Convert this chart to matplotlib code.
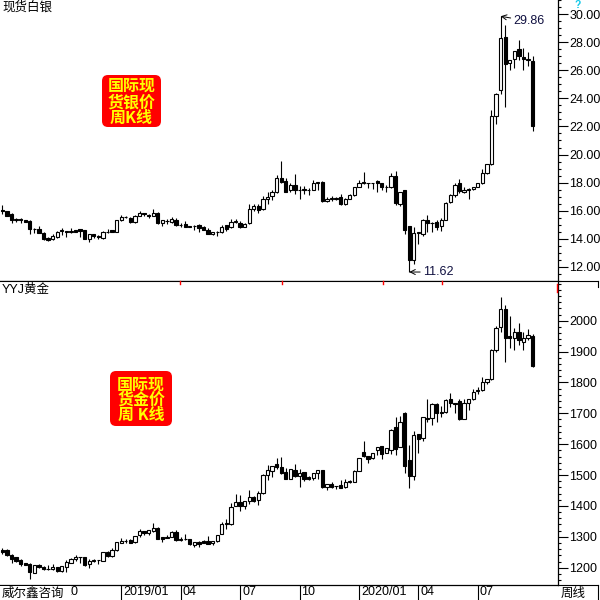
import matplotlib
matplotlib.use('Agg')
import matplotlib.pyplot as plt
import matplotlib.transforms as mtransforms
from matplotlib.patches import Rectangle, FancyBboxPatch
from matplotlib.lines import Line2D
from matplotlib.ticker import MultipleLocator, FixedLocator, FormatStrFormatter

# weekly candles, week of 2018-07-02 .. week of 2020-09-21
silver_open = [16.05, 15.95, 15.75, 15.35, 15.4, 15.32, 15.25, 14.7, 14.72, 14.4,
               14.05, 13.95, 14.15, 14.55, 14.55, 14.5, 14.6, 14.7, 14.6, 14.0,
               14.3, 14.2, 14.05, 14.5, 14.6, 14.5, 15.3, 15.55, 15.5, 15.2,
               15.65, 15.8, 15.7, 15.65, 15.85, 15.1, 15.25, 15.2, 15.35, 15.0,
               15.05, 14.88, 14.9, 14.95, 14.85, 14.6, 14.3, 14.5, 14.45, 14.95,
               14.8, 15.2, 15.15, 14.85, 15.15, 16.1, 16.3, 16.1, 16.85, 17.05,
               17.3, 18.3, 18.1, 17.5, 17.85, 17.45, 17.45, 17.5, 17.5, 17.95,
               18.05, 16.7, 16.85, 16.9, 16.95, 16.45, 16.85, 17.1, 17.7, 18.05,
               18.0, 17.95, 18.1, 17.95, 17.65, 17.65, 18.5, 16.5, 17.45, 14.9,
               12.5, 14.4, 14.3, 15.35, 15.1, 15.2, 14.9, 15.35, 16.6, 17.1,
               17.95, 17.3, 17.45, 17.55, 17.7, 17.95, 18.65, 19.3, 22.75, 24.6,
               28.35, 26.5, 26.8, 27.55, 26.95, 26.75, 26.65]
silver_high = [16.4, 16.0, 15.8, 15.5, 15.45, 15.35, 15.3, 14.75, 14.9, 14.45,
               14.1, 14.3, 14.55, 14.75, 14.55, 14.75, 14.65, 14.7, 14.65, 14.35,
               14.35, 14.25, 14.55, 14.7, 14.6, 15.35, 15.7, 15.65, 15.55, 15.7,
               16.0, 15.85, 15.75, 16.1, 15.9, 15.35, 15.4, 15.55, 15.45, 15.15,
               15.25, 14.9, 14.95, 15.05, 14.9, 14.75, 14.5, 14.55, 15.0, 15.0,
               15.4, 15.4, 15.25, 15.1, 16.45, 16.5, 16.45, 17.05, 17.35, 17.45,
               18.55, 19.55, 18.35, 18.0, 18.6, 17.75, 17.75, 17.6, 18.2, 18.05,
               18.1, 16.95, 17.05, 17.0, 17.2, 16.9, 17.15, 17.7, 18.15, 18.75,
               18.0, 18.0, 18.2, 18.0, 17.8, 18.65, 18.85, 17.35, 17.5, 14.9,
               14.85, 14.45, 15.4, 15.68, 15.2, 15.3, 15.45, 16.6, 17.2, 18.0,
               18.25, 17.7, 17.6, 17.7, 18.0, 18.95, 19.35, 23.2, 24.4, 29.86,
               29.25, 26.75, 27.4, 28.2, 27.6, 27.3, 27.0]
silver_low = [15.75, 15.6, 15.1, 15.2, 15.1, 15.2, 14.3, 14.4, 14.4, 13.9,
              13.85, 13.9, 14.05, 14.25, 14.15, 14.4, 14.45, 14.15, 13.95, 13.75,
              14.05, 14.0, 14.0, 14.4, 14.45, 14.45, 15.25, 15.45, 15.15, 15.1,
              15.6, 15.6, 15.45, 15.6, 15.05, 14.9, 15.05, 15.15, 14.9, 14.85,
              14.85, 14.8, 14.6, 14.5, 14.6, 14.3, 14.25, 14.2, 14.4, 14.55,
              14.75, 15.1, 14.75, 14.8, 15.05, 16.0, 15.85, 16.05, 16.45, 16.75,
              17.25, 17.95, 17.3, 17.35, 17.2, 16.85, 17.2, 17.1, 17.5, 17.5,
              16.6, 16.6, 16.65, 16.75, 16.4, 16.4, 16.8, 17.05, 17.7, 17.9,
              17.6, 17.55, 17.3, 17.45, 17.35, 17.6, 16.4, 16.3, 14.35, 11.62,
              12.2, 13.6, 14.2, 14.5, 14.5, 14.6, 14.55, 15.3, 16.55, 17.0,
              17.25, 17.25, 16.8, 17.5, 17.65, 17.9, 18.6, 19.25, 22.2, 24.3,
              23.4, 26.0, 26.15, 26.75, 26.0, 26.3, 21.65]
silver_close = [15.95, 15.65, 15.35, 15.4, 15.3, 15.22, 14.7, 14.72, 14.42, 14.0,
                13.9, 14.2, 14.5, 14.6, 14.5, 14.58, 14.5, 14.55, 14.0, 14.3,
                14.2, 14.1, 14.5, 14.5, 14.5, 15.3, 15.55, 15.55, 15.2, 15.65,
                15.82, 15.75, 15.65, 15.85, 15.1, 15.3, 15.25, 15.4, 15.0, 15.0,
                14.85, 14.85, 14.92, 14.75, 14.65, 14.3, 14.45, 14.5, 14.85, 14.7,
                15.2, 15.25, 14.85, 15.05, 16.1, 16.3, 16.05, 16.85, 17.0, 17.3,
                18.3, 18.05, 17.35, 17.85, 17.45, 17.5, 17.55, 17.5, 17.95, 18.05,
                16.65, 16.85, 16.9, 16.8, 16.45, 16.85, 17.1, 17.65, 17.95, 17.95,
                17.95, 18.0, 17.95, 17.65, 17.7, 18.5, 16.55, 17.3, 14.6, 12.5,
                14.4, 14.45, 15.35, 15.1, 15.1, 14.85, 15.35, 16.55, 17.1, 17.8,
                17.4, 17.5, 17.55, 17.68, 17.95, 18.65, 19.3, 22.75, 24.3, 28.3,
                26.45, 26.75, 27.4, 27.0, 26.8, 26.8, 22.0]

gold_open = [1257, 1257, 1241, 1233, 1225, 1214, 1212, 1184, 1209, 1201,
             1196, 1195, 1201, 1190, 1203, 1216, 1227, 1233, 1234, 1211,
             1223, 1224, 1223, 1250, 1239, 1257, 1281, 1285, 1289, 1282,
             1305, 1319, 1313, 1320, 1330, 1298, 1296, 1300, 1315, 1291,
             1293, 1292, 1275, 1284, 1286, 1285, 1279, 1286, 1309, 1342,
             1343, 1401, 1413, 1399, 1417, 1428, 1418, 1441, 1500, 1513,
             1537, 1525, 1509, 1488, 1516, 1498, 1509, 1495, 1492, 1506,
             1516, 1460, 1470, 1463, 1468, 1460, 1477, 1479, 1514, 1575,
             1563, 1555, 1581, 1594, 1571, 1581, 1655, 1592, 1700, 1549,
             1498, 1632, 1619, 1686, 1684, 1729, 1701, 1703, 1745, 1735,
             1740, 1683, 1733, 1748, 1773, 1775, 1800, 1811, 1904, 1980,
             2038, 1950, 1943, 1964, 1932, 1943, 1950]
gold_high = [1263, 1262, 1244, 1236, 1228, 1216, 1214, 1210, 1211, 1205,
             1209, 1211, 1201, 1207, 1225, 1232, 1241, 1234, 1236, 1227,
             1228, 1226, 1252, 1253, 1263, 1283, 1295, 1292, 1292, 1304,
             1326, 1319, 1322, 1344, 1332, 1298, 1307, 1319, 1322, 1298,
             1308, 1294, 1284, 1288, 1290, 1303, 1285, 1306, 1347, 1358,
             1408, 1439, 1434, 1416, 1452, 1432, 1448, 1505, 1533, 1529,
             1554, 1557, 1522, 1519, 1536, 1519, 1509, 1497, 1507, 1516,
             1517, 1470, 1476, 1465, 1484, 1486, 1484, 1515, 1556, 1610,
             1563, 1573, 1590, 1594, 1587, 1648, 1689, 1691, 1703, 1597,
             1643, 1632, 1689, 1747, 1732, 1732, 1723, 1747, 1765, 1735,
             1745, 1745, 1745, 1778, 1786, 1817, 1810, 1907, 1983, 2078,
             2051, 2015, 1975, 1992, 1964, 1972, 1957]
gold_low = [1244, 1238, 1214, 1218, 1206, 1208, 1164, 1182, 1198, 1192,
            1192, 1192, 1185, 1186, 1187, 1214, 1222, 1216, 1207, 1200,
            1219, 1212, 1221, 1236, 1236, 1255, 1279, 1279, 1280, 1280,
            1300, 1306, 1306, 1316, 1292, 1284, 1295, 1298, 1288, 1285,
            1291, 1274, 1268, 1268, 1280, 1277, 1272, 1284, 1308, 1324,
            1337, 1401, 1385, 1389, 1406, 1414, 1403, 1440, 1484, 1495,
            1520, 1505, 1486, 1486, 1493, 1462, 1482, 1484, 1484, 1488,
            1459, 1451, 1457, 1454, 1457, 1458, 1475, 1478, 1512, 1560,
            1540, 1551, 1565, 1551, 1570, 1568, 1565, 1590, 1508, 1457,
            1484, 1573, 1610, 1673, 1662, 1673, 1687, 1700, 1721, 1700,
            1678, 1680, 1710, 1743, 1762, 1772, 1794, 1808, 1900, 1964,
            1867, 1912, 1905, 1921, 1906, 1939, 1850]
gold_close = [1251, 1241, 1229, 1222, 1212, 1210, 1187, 1208, 1201, 1196,
              1197, 1202, 1188, 1205, 1219, 1228, 1235, 1234, 1209, 1222,
              1225, 1225, 1250, 1239, 1257, 1282, 1286, 1287, 1281, 1302,
              1320, 1313, 1322, 1328, 1294, 1293, 1300, 1315, 1290, 1293,
              1293, 1276, 1284, 1276, 1281, 1278, 1285, 1305, 1341, 1344,
              1398, 1413, 1399, 1416, 1428, 1417, 1441, 1500, 1516, 1529,
              1525, 1508, 1488, 1519, 1497, 1506, 1488, 1488, 1507, 1516,
              1460, 1470, 1462, 1464, 1459, 1478, 1481, 1514, 1554, 1563,
              1553, 1573, 1590, 1568, 1587, 1646, 1585, 1673, 1529, 1498,
              1630, 1617, 1687, 1680, 1729, 1700, 1703, 1743, 1734, 1730,
              1683, 1732, 1745, 1770, 1776, 1800, 1810, 1905, 1978, 2038,
              1945, 1943, 1964, 1937, 1943, 1953, 1853]

tick_weeks = [13, 26, 39, 52, 65, 78, 91, 104]
tick_labels = ['10', '2019/01', '04', '07', '10', '2020/01', '04', '07']
silver_ticks = [12, 14, 16, 18, 20, 22, 24, 26, 28, 30]
gold_ticks = [1200, 1300, 1400, 1500, 1600, 1700, 1800, 1900, 2000]

CJK = ['Noto Sans CJK SC', 'DejaVu Sans']
LAT = ['Liberation Sans', 'Noto Sans CJK SC']
plt.rcParams['font.family'] = LAT

fig = plt.figure(figsize=(6, 6), dpi=100)


def fx(x):
    return x / 600


def fy(y):
    return 1 - y / 600


def fline(xs, ys, color='black', lw=0.8):
    fig.add_artist(Line2D([fx(v) for v in xs], [fy(v) for v in ys],
                          color=color, lw=lw, transform=fig.transFigure))


def draw_candles(ax, o, h, l, c, width=0.72):
    for i in range(len(o)):
        ax.vlines(i, l[i], h[i], color='black', lw=0.8, zorder=2)
        lo, hi = min(o[i], c[i]), max(o[i], c[i])
        face = 'white' if c[i] >= o[i] else 'black'
        ax.add_patch(Rectangle((i - width / 2, lo), width, hi - lo,
                               fc=face, ec='black', lw=0.8, zorder=3))


def style_axis(ax, ticks, fmt, minor):
    ax.set_xlim(-0.525, 121.55)
    ax.set_xticks([])
    for s in ['left', 'top']:
        ax.spines[s].set_visible(False)
    ax.spines['right'].set_linewidth(0.9)
    ax.spines['bottom'].set_linewidth(0.9)
    ax.yaxis.tick_right()
    ax.yaxis.set_major_locator(FixedLocator(ticks))
    ax.yaxis.set_major_formatter(FormatStrFormatter(fmt))
    ax.yaxis.set_minor_locator(MultipleLocator(minor))
    ax.tick_params(axis='y', which='major', direction='out', length=7,
                   width=0.8, pad=1, labelsize=9)
    ax.tick_params(axis='y', which='minor', direction='out', length=2, width=0.8)


def red_box(x0, y0, x1, y1, lines, centers):
    box = FancyBboxPatch((fx(x0), fy(y1)), fx(x1) - fx(x0), fy(y0) - fy(y1),
                         boxstyle='round,pad=0,rounding_size=0.01',
                         fc='#FF0000', ec='none', transform=fig.transFigure)
    fig.add_artist(box)
    for txt, yc in zip(lines, centers):
        fig.text(fx((x0 + x1) / 2), fy(yc), txt, ha='center', va='center',
                 fontsize=11.5, fontweight='bold', color='#FFFF00', family=CJK)


# silver panel
ax1 = fig.add_axes([0, fy(281), fx(558), 281 / 600])
draw_candles(ax1, silver_open, silver_high, silver_low, silver_close)
ax1.set_ylim(10.98, 31.02)
style_axis(ax1, silver_ticks, '%.2f', 0.5)

hi_i = silver_high.index(max(silver_high))
lo_i = silver_low.index(min(silver_low))
ax1.annotate('%.2f' % silver_high[hi_i], xy=(hi_i, silver_high[hi_i]),
             xytext=(hi_i + 2.8, silver_high[hi_i] - 0.35), ha='left', va='center',
             fontsize=9, color='#101040',
             arrowprops=dict(arrowstyle='->', lw=0.7, color='black',
                             shrinkA=0, shrinkB=0))
ax1.annotate('%.2f' % silver_low[lo_i], xy=(lo_i, silver_low[lo_i]),
             xytext=(lo_i + 3.0, silver_low[lo_i]), ha='left', va='center',
             fontsize=9, color='#101040',
             arrowprops=dict(arrowstyle='->', lw=0.7, color='black',
                             shrinkA=0, shrinkB=0))

# gold panel
ax2 = fig.add_axes([0, fy(585), fx(558), (585 - 282) / 600])
draw_candles(ax2, gold_open, gold_high, gold_low, gold_close)
ax2.set_ylim(1143.9, 2125.4)
style_axis(ax2, gold_ticks, '%d', 20)

# date strip under the gold panel
xt = ax2.get_xaxis_transform()
ax2.vlines(tick_weeks, -15 / 303, 0, transform=xt, clip_on=False,
           lw=0.8, color='black')
lab_tr = mtransforms.offset_copy(xt, fig=fig, x=2, y=-1, units='dots')
for wk, lab in zip(tick_weeks, tick_labels):
    ax2.text(wk, 0, lab, transform=lab_tr, ha='left', va='top', fontsize=9)
fig.add_artist(Rectangle((0, 0), fx(70.5), fy(586), fc='white', ec='none',
                         transform=fig.transFigure, zorder=5))
fig.text(fx(2), fy(587), '威尔鑫咨询', ha='left', va='top', fontsize=9,
         family=CJK, zorder=6)
fig.text(fx(561), fy(587), '周线', ha='left', va='top', fontsize=9, family=CJK)

# frame pieces
fline([0, 598], [281, 281])
fline([558, 598], [585, 585])
fline([598, 598], [585, 600])
fline([598, 598], [281, 287])
for xr in [180, 282, 383, 442]:
    fline([xr, xr], [281, 284], color='#FF0000', lw=1)
fline([557, 557], [284, 292], color='#FF0000', lw=1)

# titles and labels
fig.text(fx(2), fy(1), '现货白银', ha='left', va='top', fontsize=9, family=CJK)
fig.text(fx(2), fy(284), 'YYJ黄金', ha='left', va='top', fontsize=9, family=LAT)
fig.text(fx(578), fy(0.5), '?', ha='center', va='top', fontsize=7.5,
         fontweight='bold', color='#10C8E8')

red_box(102, 75, 161, 127, ['国际现', '货银价', '周K线'], [86, 102, 118])
red_box(110, 371, 172, 426, ['国际现', '货金价', '周 K线'], [384.5, 399.5, 414.5])

fig.savefig('out.png', dpi=100)
